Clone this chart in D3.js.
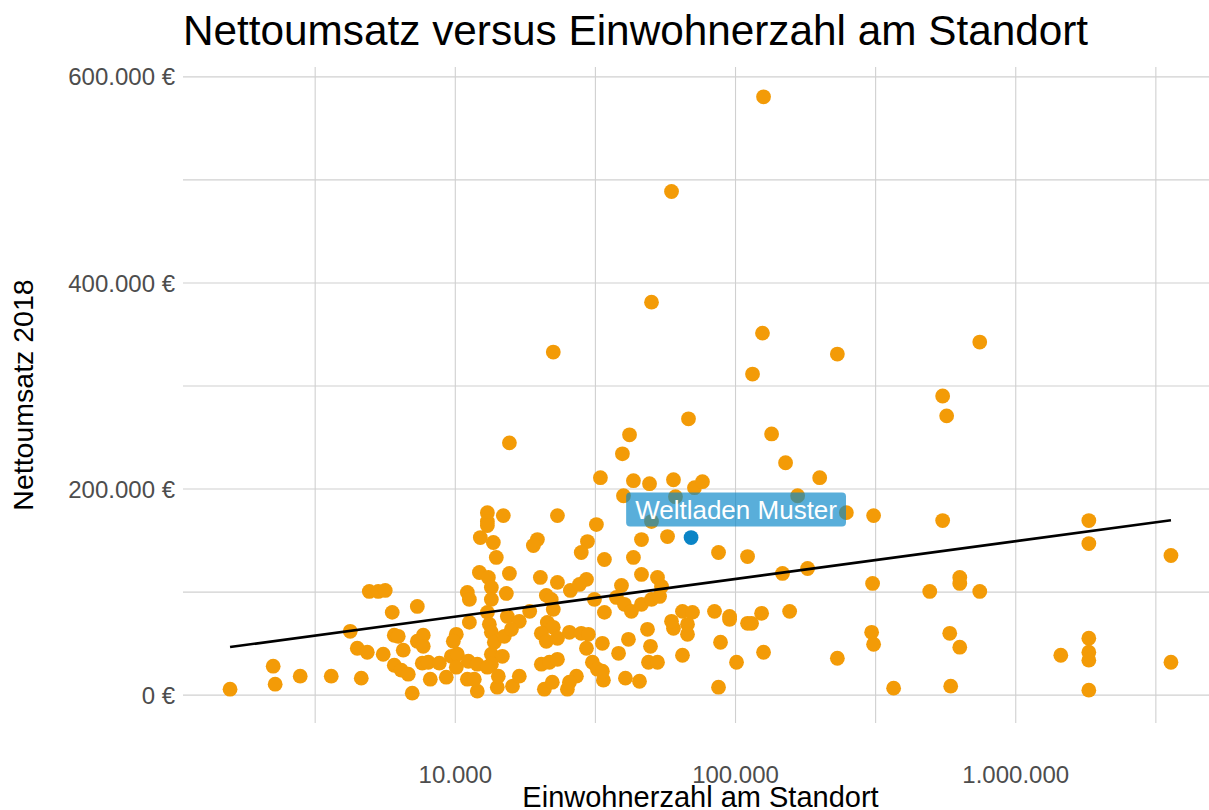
<!DOCTYPE html>
<html><head><meta charset="utf-8">
<script src="https://cdn.jsdelivr.net/npm/d3@7"></script>
<style>body{margin:0;background:#fff}svg{display:block;font-family:"Liberation Sans",Arial,sans-serif}</style>
</head><body><svg id="c" width="1209" height="810"></svg>
<script>
// Einwohnerzahl (population) and Nettoumsatz 2018 (revenue, EUR) per Weltladen
const population = [
 1571,2239,2276,2796,3608,4618,4217,4469,4852,5531,4933,5308,5623,5955,6056,6258,6520,6056,6416,6795,
 7020,7319,7319,7686,7686,7623,8009,8142,8771,9285,9681,10166,10083,10083,9837,
 13016,13016,13016,14840,23145,12283,13668,14006,19635,18994,12189,13123,13449,15600,20118,23145,25748,11042,11226,13449,
 15212,21130,21999,22370,11226,13016,13230,15337,16920,18430,21300,22370,13449,13780,14960,15860,13449,14720,13449,20280,
 21130,23145,25540,11130,11980,13016,11042,11980,11690,14120,14240,16000,16920,20280,21670,23145,20790,22190,25120,27050,
 28150,29850,29380,30850,32140,33770,33490,38250,41484,40472,45430,48510,49720,48910,52670,64660,60060,67400,67400,86960,
 88400,100830,95240,
 31880,29620,28150,34050,43220,46180,57190,86960,46180,52670,54440,39180,29380,27740,31370,34050,37580,40140,42500,46180,
 50140,53560,59100,64660,70200,84130,95240,33490,25540,
 15600,41850,39480,67950,32950,43220,49330,60060,71380,76210,39830,50140,61054,110400,110400,
 125900,59100,50140,22370,124800,230900,115000,744000,548500,566800,134500,150870,199700,166600,248600,311000,548500,1823000,1823000,3580000,
 156000,123900,114100,125900,230900,306000,311000,366600,581400,631300,586000,1448000,1823000,1823000,1823000,1823000,3580000,147100,180800,308400,
 493300,631300,631300,744000
];
const revenue = [
 5800,28100,10600,18400,18400,16500,61900,45500,41600,39700,100600,100600,101600,80300,58100,57100,43600,29000,24200,20300,
 1900,86100,52300,58100,47400,31000,31900,15500,31000,17400,37700,39700,27100,59000,52300,
 177100,168400,164600,174200,174200,152900,148100,133600,151000,145200,119000,114200,104500,118100,114200,109400,101600,99700,92900,92900,
 98700,96800,92900,83200,70600,80300,68700,76400,71600,81300,70600,65800,61000,51300,57100,63900,39700,37700,30000,60000,
 52300,55200,61000,32900,30000,27100,15500,3900,15500,7700,18400,8700,18400,30000,31900,34800,5800,12600,5800,18400,
 60000,59000,45500,31900,25200,14500,50300,40600,54200,16500,13500,63900,47400,31900,31900,38700,64800,68700,59000,7700,
 51300,31900,73500,
 165500,149000,138400,131600,133600,151000,153900,138400,117100,114200,105500,106400,112300,107400,92900,80300,94800,88100,81300,88100,
 92900,95800,71600,81300,80300,81300,76400,23200,12600,
 244800,252600,234200,268100,211000,208100,205200,209000,201300,207100,193500,168400,192600,134500,69700,
 580600,488700,381300,332900,351300,331000,311600,342600,290300,271000,253500,225500,211000,193500,177100,174200,169400,169400,147100,135500,
 81300,79400,69700,41600,35800,61000,49400,6800,60000,46500,8700,38700,55200,41600,33900,4800,31900,118100,122900,108400,
 100600,114200,108400,100600
];
const highlightName = ["Weltladen Muster"];
const highlightPopulation = [69400];
const highlightRevenue = [152900];

const titleText = "Nettoumsatz versus Einwohnerzahl am Standort";
const xTitle = "Einwohnerzahl am Standort";
const yTitle = "Nettoumsatz 2018";
const xTicks = [10000, 100000, 1000000];
const xMinorTicks = [3162, 31623, 316228, 3162278];
const yTicks = [0, 200000, 400000, 600000];
const yMinorTicks = [100000, 300000, 500000];

const de = d3.formatLocale({decimal: ",", thousands: ".", grouping: [3], currency: ["", " €"]});
const fmt = de.format(",.0f");

const svg = d3.select("#c");
const P = {left: 183, right: 1218, top: 67, bottom: 723};

const allPop = population.concat(highlightPopulation);
const allRev = revenue.concat(highlightRevenue);
const lx = d3.extent(allPop).map(Math.log10);
const padX = (lx[1] - lx[0]) * 0.05;
const x = d3.scaleLog().domain([Math.pow(10, lx[0] - padX), Math.pow(10, lx[1] + padX)]).range([P.left, P.right]);
const ey = d3.extent(allRev);
const padY = (ey[1] - ey[0]) * 0.05;
const y = d3.scaleLinear().domain([ey[0] - padY, ey[1] + padY]).range([P.bottom, P.top]);

const grid = svg.append("g").attr("stroke", "#d0d0d0").attr("stroke-width", 1.1);
xMinorTicks.concat(xTicks).forEach(v => {
  grid.append("line").attr("x1", x(v)).attr("x2", x(v)).attr("y1", P.top).attr("y2", P.bottom);
});
yMinorTicks.concat(yTicks).forEach(v => {
  grid.append("line").attr("x1", P.left).attr("x2", P.right).attr("y1", y(v)).attr("y2", y(v));
});

// points
const pts = population.map((p, i) => ({p, r: revenue[i]}));
svg.append("g").selectAll("circle").data(pts).join("circle")
  .attr("cx", d => x(d.p)).attr("cy", d => y(d.r)).attr("r", 7.4).attr("fill", "#f39b07");

// regression line (lm of revenue on log10 population)
const X = allPop.map(Math.log10), Y = allRev;
const mx = d3.mean(X), my = d3.mean(Y);
let sxy = 0, sxx = 0;
X.forEach((v, i) => { sxy += (v - mx) * (Y[i] - my); sxx += (v - mx) * (v - mx); });
const b = sxy / sxx, a = my - b * mx;
const ext = d3.extent(allPop);
const line = d3.line().x(d => x(d)).y(d => y(a + b * Math.log10(d)));
svg.append("path").datum(ext).attr("d", line).attr("fill", "none").attr("stroke", "#000").attr("stroke-width", 2.6);

// highlighted store
const hl = highlightName.map((n, i) => ({n, p: highlightPopulation[i], r: highlightRevenue[i]}));
svg.append("g").selectAll("circle").data(hl).join("circle")
  .attr("cx", d => x(d.p)).attr("cy", d => y(d.r)).attr("r", 7.4).attr("fill", "#0a84c6");

const lab = svg.append("g");
hl.forEach(d => {
  const cx = x(d.p) + 45, cy = y(d.r) - 28;
  const g = lab.append("g");
  const rect = g.append("rect");
  const t = g.append("text").attr("x", cx).attr("y", cy).attr("dy", "0.36em")
    .attr("text-anchor", "middle").attr("font-size", 26).attr("fill", "#fff").text(d.n);
  const w = t.node().getComputedTextLength() + 18;
  rect.attr("x", cx - w / 2).attr("y", cy - 17).attr("width", w).attr("height", 34)
    .attr("rx", 4).attr("fill", "#0a87c8").attr("fill-opacity", 0.68);
});

// axis labels
const tg = svg.append("g").attr("fill", "#4d4d4d").attr("font-size", 24);
xTicks.forEach(v => tg.append("text").attr("x", x(v)).attr("y", 783).attr("text-anchor", "middle").text(fmt(v)));
yTicks.forEach(v => tg.append("text").attr("x", 175).attr("y", y(v)).attr("dy", "0.36em").attr("text-anchor", "end").text(fmt(v) + " €"));

svg.append("text").attr("x", (P.left + P.right) / 2).attr("y", 807).attr("text-anchor", "middle")
  .attr("font-size", 29).attr("fill", "#000").text(xTitle);
svg.append("text").attr("transform", `translate(33,${(P.top + P.bottom) / 2}) rotate(-90)`).attr("text-anchor", "middle")
  .attr("font-size", 28.5).attr("fill", "#000").text(yTitle);
svg.append("text").attr("x", P.left).attr("y", 45).attr("font-size", 42.3).attr("fill", "#000").text(titleText);
</script></body></html>
